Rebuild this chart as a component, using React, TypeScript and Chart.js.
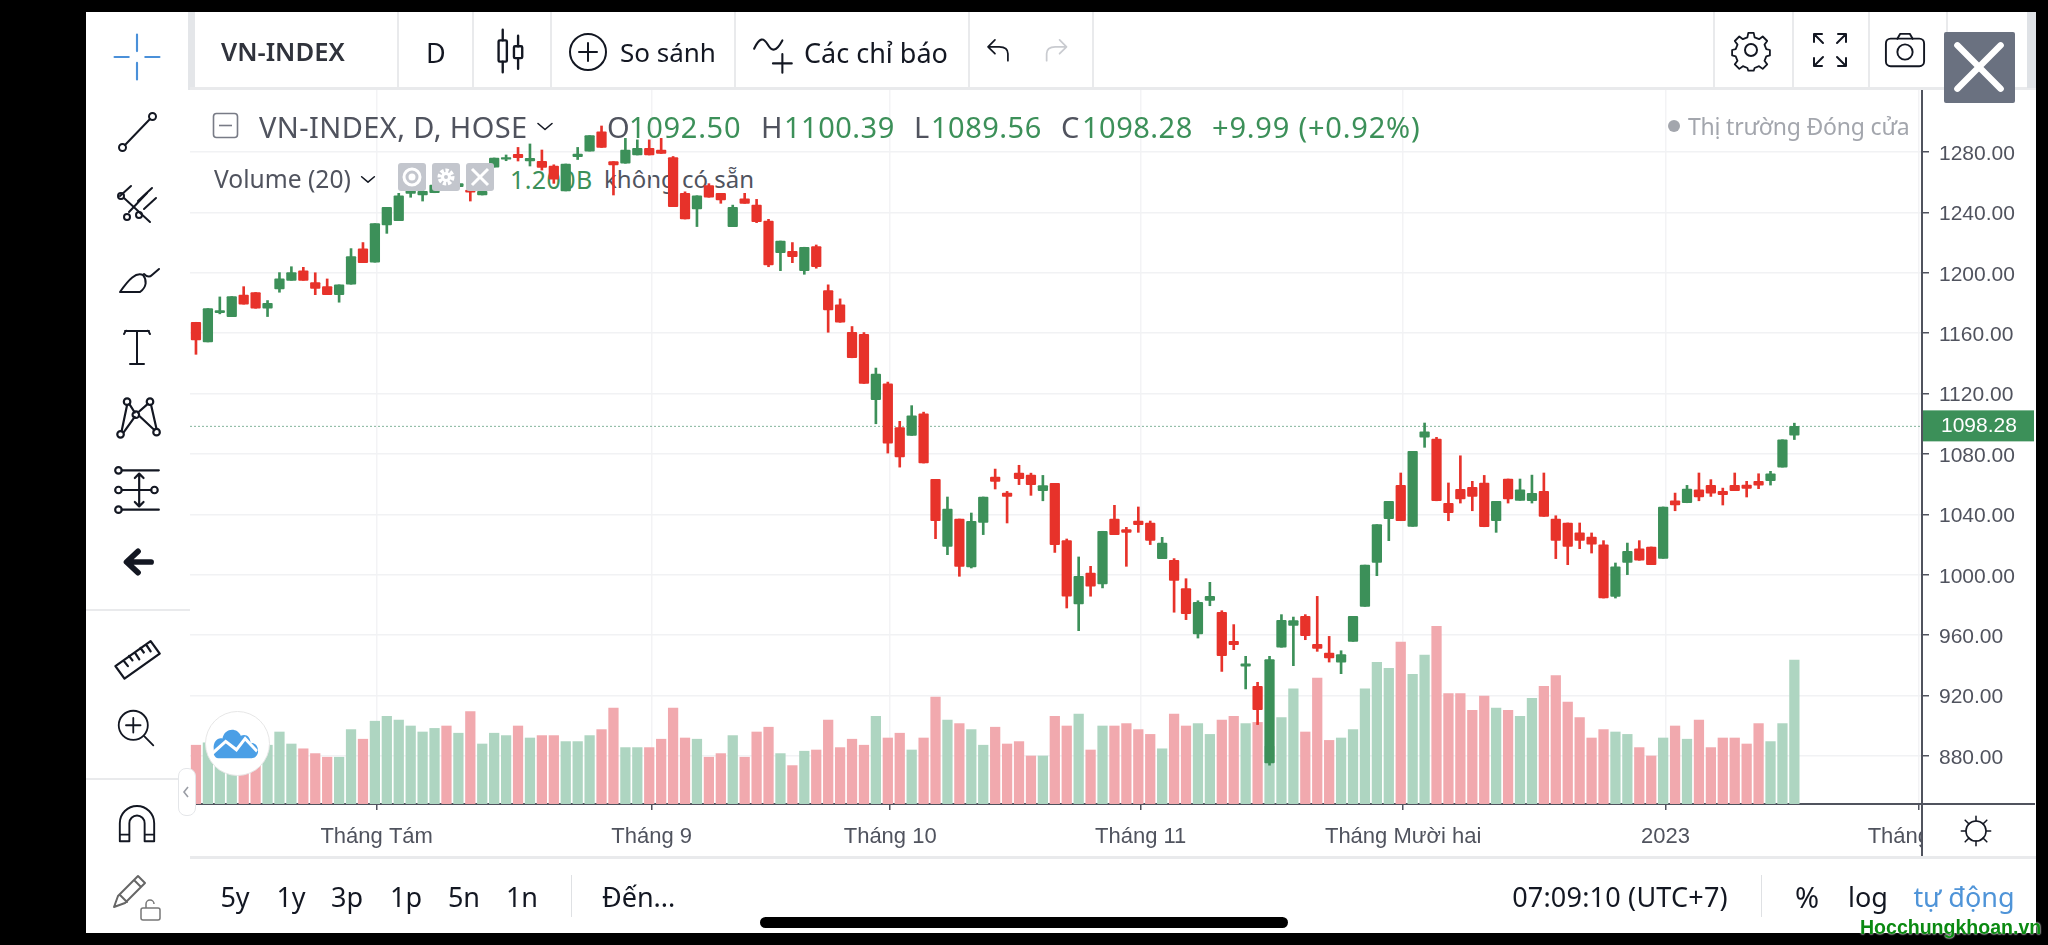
import React, { useEffect, useRef } from "react";
import { Chart, registerables } from "chart.js";

Chart.register(...registerables);

const opens = [1167.2,1154.2,1173.6,1171,1185.3,1186.9,1176.5,1189.3,1195,1201.2,1193.5,1190.8,1185.5,1192.4,1215.8,1207,1231.7,1234.5,1252.6,1251.5,1253,1259,1257,1254.8,1251.5,1270,1275.3,1278.4,1274,1273.8,1270.7,1254.2,1276.9,1280.6,1293.4,1273.6,1272.5,1278,1282.4,1281.3,1276.2,1252.6,1242.2,1257.7,1252.6,1230.6,1248.9,1244.9,1234.3,1213.3,1214.2,1201.4,1217.3,1188.2,1178.7,1160.6,1159.3,1115.9,1126.5,1097.4,1092.3,1106.6,1063.2,1018.8,1036.9,1005.2,1034.7,1064.7,1054.1,1067.4,1066,1055.7,1060.5,1022.6,980.7,1001.2,993.9,1036.9,1029.9,1035.6,1034.3,1010.7,1009.6,990.8,960.8,983,975.1,955.9,939.4,926.1,875.4,952,966.5,972.5,953.9,948.2,942.2,955.9,979.1,1008.2,1037.1,1059.2,1032.1,1091.2,1089.9,1047.3,1056.6,1057.9,1060.7,1035.8,1063.4,1049.3,1049,1055.2,1036.9,1034.3,1027.7,1025,1019.9,985.7,1008.2,1017.1,1018.4,1010.9,1049,1047.7,1056.3,1059.2,1055.2,1059.2,1059.4,1061.9,1062.3,1071.3,1092.5];
const highs = [1167.2,1176.3,1184,1184.2,1190.8,1186.9,1181.6,1200.1,1204,1203.6,1200,1195.9,1192,1216,1220,1232.5,1243.3,1252.6,1256,1256,1258,1262,1260,1256,1254,1276,1278,1283,1285.3,1281.3,1271.5,1272,1283,1290.8,1297.2,1273.6,1289,1288,1288,1289,1277,1253.6,1251,1259,1252.6,1244.8,1252.6,1248.6,1235.4,1221,1220,1216.9,1218.4,1192,1182.7,1164.4,1160.4,1136.9,1127.6,1101.6,1112,1107.7,1063.2,1051.5,1036.9,1040.9,1051.5,1070,1055.2,1072.5,1067.3,1065.8,1060.5,1023.7,1011.8,1005.6,1028.8,1046,1031.4,1044.9,1035.6,1024.8,1010.7,997.4,982.8,995,976.2,967,946,928.8,946,973.6,972,973.6,985.7,959.2,949.7,972.5,1006.4,1033.2,1048.6,1067.4,1081.7,1100.5,1091,1060.8,1078.8,1061.9,1065.8,1048.6,1063.4,1063.4,1066,1067.4,1039.1,1034.3,1034.3,1027.7,1022.6,1007.8,1021,1022.6,1018.4,1044.9,1054.1,1059.2,1067.4,1063,1057.4,1067.4,1061.9,1066.9,1068.5,1089.4,1100.39];
const lows = [1146,1154.2,1172.8,1171,1179.2,1176.5,1171,1187.1,1195,1195,1185.5,1185.5,1180.5,1192.4,1206.7,1207,1226.1,1234.5,1250,1247.5,1253,1256,1257,1247.5,1251.5,1270,1274.2,1274,1270.7,1268,1259.2,1254.2,1275,1280.6,1283,1251.5,1272.5,1278,1278,1279,1243.8,1235.6,1230.6,1250,1246,1230.6,1246,1233.2,1204,1201.4,1206.7,1199,1203,1160.6,1167.2,1143.7,1126.7,1100,1080.6,1071.3,1092.3,1074,1023.9,1013.3,999,1004.5,1026.6,1056.8,1034.3,1059.7,1052.6,1049,1014.8,978,963,985.8,991.3,1026.6,1005.6,1028.1,1020,1010.7,975.2,970.3,958.1,979.5,936,950.4,924.4,900.8,873.9,952,939.8,957,949.3,942.2,934.5,955.9,979.1,999.4,1022.6,1035.8,1032.1,1084.4,1049,1035.8,1047.5,1042.4,1031.8,1028.1,1047.5,1049.3,1047.5,1038.7,1010.7,1006.7,1017.3,1014.4,984.6,984.6,1000.1,1009.6,1006.7,1010.9,1042.4,1047.7,1049,1051.9,1046.2,1055.7,1051.5,1057,1059.4,1071.3,1089.56];
const closes = [1155.5,1176.3,1175,1184.2,1179.2,1176.5,1179.8,1195.9,1200.1,1195,1189.7,1185.5,1192,1210.7,1206.7,1232.5,1243.3,1251,1254.8,1254,1258,1257,1259,1253.3,1254,1276,1276.2,1276.2,1275.8,1269.8,1261.9,1272,1278.6,1290.8,1283,1271.4,1281.3,1282.4,1278,1279,1243.8,1235.6,1251,1250,1248.2,1243.3,1246,1233.9,1205.2,1221,1210.7,1216.9,1204,1175.4,1167.2,1143.7,1126.7,1132.9,1087.2,1078,1105.3,1074,1035.8,1043.5,1005.6,1035.4,1051.5,1061.9,1051.9,1063.6,1059.7,1059,1020,985.8,999,992.4,1028.8,1026.6,1028.1,1033.2,1022.8,1021,996.3,974.2,981.7,985.7,946.4,953.7,941.1,910.7,943.8,969.8,969.6,959.7,951.3,944.9,947.1,972.5,1006.4,1033.2,1048.6,1035.8,1081.7,1094.7,1049,1041.1,1050.2,1051.9,1031.8,1048.6,1050.2,1056.3,1053.9,1038.7,1022.8,1018.8,1022.8,1020.2,984.6,1005.2,1015.5,1009.6,1006.7,1044.9,1046.2,1056.8,1051.5,1054.1,1053,1055.7,1057.2,1059.4,1066.9,1089.4,1098.28];
const volumes = [0.49,0.51,0.44,0.41,0.39,0.44,0.49,0.6,0.5,0.46,0.42,0.39,0.39,0.62,0.54,0.69,0.73,0.7,0.65,0.6,0.63,0.65,0.59,0.77,0.5,0.59,0.57,0.65,0.55,0.57,0.57,0.52,0.52,0.57,0.62,0.8,0.47,0.47,0.47,0.54,0.8,0.55,0.54,0.39,0.42,0.57,0.39,0.6,0.64,0.42,0.32,0.44,0.45,0.7,0.47,0.54,0.49,0.73,0.55,0.59,0.45,0.55,0.89,0.7,0.67,0.62,0.49,0.64,0.5,0.52,0.4,0.4,0.73,0.65,0.75,0.45,0.65,0.65,0.67,0.62,0.58,0.46,0.75,0.65,0.67,0.58,0.7,0.73,0.67,0.68,0.48,0.72,0.96,0.6,1.05,0.53,0.55,0.62,0.96,1.18,1.13,1.35,1.08,1.24,1.48,0.92,0.92,0.78,0.9,0.8,0.78,0.73,0.88,0.98,1.07,0.85,0.72,0.55,0.62,0.6,0.58,0.47,0.4,0.55,0.65,0.54,0.7,0.47,0.55,0.55,0.5,0.67,0.52,0.67,1.2];
const priceTicks = [880,920,960,1000,1040,1080,1120,1160,1200,1240,1280];
const monthLabels = ["Tháng Tám","Tháng 9","Tháng 10","Tháng 11","Tháng Mười hai","2023","Tháng Hai"];
const monthSlots = [15.15,38.2,58.2,79.2,101.2,123.2,144.4];
const lastClose = closes[closes.length - 1];

const RED = "#e7322a", GREEN = "#3c9059", VRED = "#f1a9ae", VGREEN = "#aed5c1";
const SANS = "'Noto Sans', sans-serif";
const AX = "'Liberation Sans', sans-serif";

const Txt = ({ x, y, s, c = "#50535e", f = SANS, w = 400, ls = 0, ha = "left", children }: any) => (
  <div style={{ position: "absolute", left: x, top: y, fontFamily: f, fontSize: s, color: c, fontWeight: w, letterSpacing: ls, whiteSpace: "nowrap", lineHeight: 1, transform: `translate(${ha === "center" ? "-50%" : "0"},-50%)` }}>{children}</div>
);
const Box = ({ x, y, w, h, c, r = 0, extra = {} }: any) => (
  <div style={{ position: "absolute", left: x, top: y, width: w, height: h, background: c, borderRadius: r, ...extra }} />
);
const Ic = ({ cx, cy, size = 44, sw = 2, stroke = "#131722", children }: any) => (
  <svg width={size} height={size} viewBox="0 0 44 44" fill="none" stroke={stroke} strokeWidth={sw} strokeLinecap="round" strokeLinejoin="round" style={{ position: "absolute", left: cx - size / 2, top: cy - size / 2 }}>{children}</svg>
);

export default function App() {
  const ref = useRef<HTMLCanvasElement | null>(null);
  useEffect(() => {
    document.body.style.margin = "0";
    document.body.style.background = "#000";
    const dir = opens.map((o, i) => closes[i] >= o);
    const badge = {
      id: "badge",
      afterDraw(chart: any) {
        const { ctx, scales } = chart;
        const y = scales.y.getPixelForValue(lastClose);
        const x0 = scales.y.left + 1;
        ctx.save();
        ctx.fillStyle = GREEN;
        ctx.fillRect(x0, y - 16, 111, 31);
        ctx.fillStyle = "#fff";
        ctx.font = "21px 'Liberation Sans'";
        ctx.textBaseline = "middle";
        ctx.fillText(lastClose.toFixed(2), x0 + 18, y);
        ctx.restore();
      },
    };
    const chart = new Chart(ref.current as HTMLCanvasElement, {
      type: "bar",
      data: {
        datasets: [
          { label: "Body", order: 0, xAxisID: "x", yAxisID: "y", barThickness: 9.6, borderRadius: 1, borderSkipped: false,
            data: opens.map((o, i) => ({ x: i, y: [o, closes[i]] })), backgroundColor: dir.map((u) => (u ? GREEN : RED)) },
          { label: "Wick", order: 1, xAxisID: "x", yAxisID: "y", barThickness: 2,  borderSkipped: false,
            data: lows.map((l, i) => ({ x: i, y: [l, highs[i]] })), backgroundColor: dir.map((u) => (u ? GREEN : RED)) },
          { label: "Last", type: "line", order: 2, xAxisID: "x", yAxisID: "y", pointRadius: 0, borderWidth: 1, borderDash: [2, 2], borderColor: "rgba(80,150,115,0.7)",
            data: [{ x: -0.5, y: lastClose }, { x: 144.7, y: lastClose }] },
          { label: "Volume", order: 3, xAxisID: "x", yAxisID: "v", barThickness: 9.6,
            data: volumes.map((v, i) => ({ x: i, y: v })), backgroundColor: dir.map((u) => (u ? VGREEN : VRED)) },
        ] as any,
      },
      plugins: [badge],
      options: {
        responsive: false,
        animation: false,
        events: [],
        datasets: { bar: { grouped: false } } as any,
        layout: { padding: { left: 190, top: 90, right: 12, bottom: 89 } },
        plugins: { legend: { display: false }, tooltip: { enabled: false }, title: { display: false } },
        scales: {
          x: {
            type: "linear", offset: false, min: -0.5, max: 144.7,
            afterBuildTicks: (a: any) => { a.ticks = monthSlots.map((value) => ({ value })); },
            afterFit: (a: any) => { a.height = 52; },
            border: { color: "#50535e", width: 2 },
            grid: { color: "#f3f3f5", tickColor: "#50535e", tickLength: 6, offset: false, lineWidth: 1.5 },
            ticks: { autoSkip: false, maxRotation: 0, padding: 14, color: "#50535e", font: { family: "Liberation Sans", size: 22 },
              callback: (v: any) => monthLabels[monthSlots.indexOf(Number(v))] ?? "" },
          },
          y: {
            type: "linear", position: "right", min: 848.2, max: 1321.03,
            afterBuildTicks: (a: any) => { a.ticks = priceTicks.map((value) => ({ value })); },
            afterFit: (a: any) => { a.width = 114; },
            border: { color: "#50535e", width: 2 },
            grid: { color: "#f1f2f4", tickColor: "#50535e", tickLength: 7, lineWidth: 1.5 },
            ticks: { padding: 10, labelOffset: 2, color: "#50535e", font: { family: "Liberation Sans", size: 21 }, callback: (v: any) => Number(v).toFixed(2) },
          },
          v: { type: "linear", display: false, min: 0, max: 5.95 },
        },
      } as any,
    });
    return () => chart.destroy();
  }, []);

  const sep = (x: number) => <Box key={x} x={x} y={12} w={2} h={76} c="#e9eaec" />;
  return (
    <div style={{ position: "relative", width: 2048, height: 945, background: "#000", overflow: "hidden" }}>
      <Box x={86} y={12} w={1950} h={921} c="#fff" />
      {/* text that sits under the candles */}
      <Txt x={510} y={179} s={25} c="#3c9059" ls={0.4}>1.200B</Txt>
      <Txt x={604} y={179} s={24}>không có sẵn</Txt>
      <canvas ref={ref} width={2048} height={945} style={{ position: "absolute", left: 0, top: 0, width: 2048, height: 945 }} />

      {/* chart frame additions */}
      <Box x={1923} y={808} w={113} h={48} c="#fff" />
      <Box x={1921} y={804} w={2} h={52} c="#50535e" />
      <Box x={1922} y={803} w={113} h={2} c="#50535e" />
      <Box x={190} y={856} w={1846} h={3} c="#e9eaec" />

      {/* top bar */}
      <Box x={188} y={12} w={7} h={78} c="#e4e6e9" />
      <Box x={190} y={87} w={1846} h={3} c="#e9eaec" />
      {[397, 472, 550, 734, 968, 1092, 1713, 1792, 1868, 1946].map(sep)}
      <Box x={2027} y={12} w={9} h={76} c="#dfe2e6" />
      <Txt x={221} y={52} s={25.6} w={600} c="#30333c">VN-INDEX</Txt>
      <Txt x={426} y={52} s={27} c="#131722">D</Txt>
      <Ic cx={511} cy={51} size={52}><path d="M15 4v9M15 31v9M28 9v9M28 28v9" /><rect x="11.5" y="13" width="7" height="18" rx="1" /><rect x="24.5" y="18" width="7" height="10" rx="1" /></Ic>
      <Ic cx={588} cy={52} size={44}><circle cx="22" cy="22" r="18" /><path d="M22 13v18M13 22h18" /></Ic>
      <Txt x={620} y={52} s={26} c="#131722">So sánh</Txt>
      <Ic cx={774} cy={54} size={46}><path d="M3 17 C8 6 12 6 16 13 C20 20 24 20 30 9" /><path d="M30 22v18M21 31h18" /></Ic>
      <Txt x={804} y={52} s={27} c="#131722">Các chỉ báo</Txt>
      <Ic cx={1001} cy={52} size={38}><path d="M30 32 V24 C30 18 26 16 20 16 H8 M15 8l-8 8 8 8" /></Ic>
      <Ic cx={1057} cy={52} size={38} stroke="#c9cbd0"><path d="M10 32 V24 C10 18 14 16 20 16 H32 M25 8l8 8-8 8" /></Ic>
      <Ic cx={1751} cy={50} size={44}><circle cx="22" cy="22" r="6" /><path d="M19 3h6l1 5 5 2 4-3 5 5-3 4 2 5 4 1v6l-4 1-2 5 3 4-5 5-4-3-5 2-1 3h-6l-1-3-5-2-4 3-5-5 3-4-2-5-4-1v-6l4-1 2-5-3-4 5-5 4 3 5-2z" transform="translate(2.2 2.2) scale(.9)" /></Ic>
      <Ic cx={1830} cy={50} size={44}><path d="M6 6l9 9M6 6h8M6 6v8M38 6l-9 9M38 6h-8M38 6v8M6 38l9-9M6 38h8M6 38v-8M38 38l-9-9M38 38h-8M38 38v-8" /></Ic>
      <Ic cx={1905} cy={52} size={42}><rect x="2" y="8" width="40" height="29" rx="5" /><path d="M14 8l3-5h10l3 5" /><circle cx="22" cy="22" r="8" /></Ic>
      <Box x={1944} y={32} w={71} h={71} c="#6a7180" r={2} />
      <Ic cx={1979} cy={67} size={56} sw={5} stroke="#fff"><path d="M5 5l34 34M39 5L5 39" /></Ic>

      {/* legend */}
      <svg width="28" height="28" style={{ position: "absolute", left: 212, top: 112 }} fill="none" stroke="#787b86" strokeWidth="1.6"><rect x="1.5" y="1.5" width="24" height="24" rx="3" /><path d="M7 13.5h13" /></svg>
      <Txt x={259} y={126} s={29} ls={0.4}>VN-INDEX, D, HOSE</Txt>
      <Ic cx={545} cy={126} size={22} sw={3.2}><path d="M8 17l14 12 14-12" /></Ic>
      <Txt x={607} y={126} s={29} ls={0.5}>O</Txt>
      <Txt x={629} y={126} s={29} c={GREEN} ls={0.7}>1092.50</Txt>
      <Txt x={761} y={126} s={29}>H</Txt>
      <Txt x={784} y={126} s={29} c={GREEN} ls={0.5}>1100.39</Txt>
      <Txt x={914} y={126} s={29}>L</Txt>
      <Txt x={931} y={126} s={29} c={GREEN} ls={0.5}>1089.56</Txt>
      <Txt x={1061} y={126} s={29}>C</Txt>
      <Txt x={1082} y={126} s={29} c={GREEN} ls={0.5}>1098.28</Txt>
      <Txt x={1212} y={126} s={29} c={GREEN} ls={0.8}>+9.99 (+0.92%)</Txt>
      <Box x={1668} y={120} w={12} h={12} c="#a3a6ad" r={6} />
      <Txt x={1688} y={126} s={23} c="#a3a6ad" ls={-0.2}>Thị trường Đóng cửa</Txt>
      <Txt x={214} y={179} s={24.6}>Volume (20)</Txt>
      <Ic cx={368} cy={179} size={20} sw={3.4}><path d="M8 17l14 12 14-12" /></Ic>
      {[398, 432, 466].map((x, k) => (
        <div key={x} style={{ position: "absolute", left: x, top: 163, width: 28, height: 28, background: "#c3c6cd", borderRadius: 3 }}>
          <svg width="28" height="28" fill="none" stroke="#fff" strokeWidth="3">
            {k === 0 && <><circle cx="14" cy="14" r="8" /><circle cx="14" cy="14" r="2" fill="#fff" /></>}
            {k === 1 && <><circle cx="14" cy="14" r="6" strokeWidth="5" strokeDasharray="3 1.5" /><circle cx="14" cy="14" r="3.5" /></>}
            {k === 2 && <path d="M6 6l16 16M22 6L6 22" />}
          </svg>
        </div>
      ))}

      {/* left bar */}
      <Box x={86} y={609} w={104} h={2} c="#e9eaec" />
      <Box x={86} y={778} w={104} h={2} c="#e9eaec" />
      <Ic cx={137} cy={57} size={52} stroke="#4a90d9" sw={1.8}><path d="M22 3v14M22 27v14M3 22h12M29 22h12" /></Ic>
      <Ic cx={137} cy={132}><path d="M10 35L35 9" /><circle cx="7.5" cy="37.5" r="3.5" /><circle cx="37.5" cy="6.5" r="3.5" /></Ic>
      <Ic cx={137} cy={203}><path d="M9 17l26 24M16 5L5 15M37 7L23 20M41 17L29 28" /><circle cx="6" cy="15" r="3" /><circle cx="24" cy="34" r="3" /><circle cx="12" cy="36" r="3" /><path d="M14 31L32 12" /></Ic>
      <Ic cx={139} cy={278}><path d="M3 36h20c7-5 7-12 3-17 -7-3-14 4-23 17z" /><path d="M27 18c3 3 6 3 8 1l7-6" /></Ic>
      <Ic cx={137} cy={347}><path d="M12 6C10 5 10 8 9 9M32 6c2-1 2 2 3 3M10 6h24M22 6v32M15 39h14" /></Ic>
      <Ic cx={138} cy={418} size={48}><circle cx="12" cy="7" r="3" /><circle cx="33" cy="7" r="3" /><circle cx="20" cy="19" r="3" /><circle cx="6" cy="37" r="3" /><circle cx="39" cy="35" r="3" /><path d="M12 10L7 34M14 9l5 8M22 17l9-8M34 10l5 22M9 35l10-14M23 20l14 13" /></Ic>
      <Ic cx={137} cy={490} size={48}><path d="M8 4h34M8 40h34M8 22h27" /><circle cx="5" cy="4" r="3" /><circle cx="5" cy="22" r="3" /><circle cx="5" cy="40" r="3" /><circle cx="38" cy="22" r="3" /><path d="M24 7v30M20 11l4-4 4 4M20 33l4 4 4-4" /></Ic>
      <Ic cx={138} cy={562} size={36} sw={7}><path d="M38 22H12M22 9L8 22l14 13" /></Ic>
      <Ic cx={137} cy={657} size={50}><path d="M3 30L34 8l8 11-31 22zM10 25l4 5M15 21l3 4M20 18l4 6M25 14l3 4M30 11l4 6" /></Ic>
      <Ic cx={136} cy={728} size={40}><circle cx="19" cy="19" r="16" /><path d="M19 11v16M11 19h16M31 31l10 10" /></Ic>
      <Ic cx={137} cy={826} size={42}><path d="M4 38V19a18 18 0 0 1 36 0v19H30V19a8 8 0 0 0-16 0v19zM4 31h10M30 31h10" /></Ic>
      <Ic cx={133} cy={893} size={44}><path d="M3 36l4-11L27 5l7 7-20 20z M9 24l7 7M23 9l7 7" stroke="#666" /></Ic>
      <svg width="24" height="26" style={{ position: "absolute", left: 139, top: 897 }} fill="#fff" stroke="#777" strokeWidth="1.5"><rect x="2" y="11" width="19" height="12" rx="2" /><path d="M7 11V7a4 4 0 0 1 8 0" fill="none" /></svg>

      {/* logo + collapse handle */}
      <div style={{ position: "absolute", left: 178, top: 768, width: 18, height: 48, background: "#fff", border: "1.5px solid #e4e6e9", borderRadius: 8, boxSizing: "border-box" }}>
        <svg width="14" height="46"><path d="M9 18l-4 5 4 5" fill="none" stroke="#9a9da5" strokeWidth="1.6" /></svg>
      </div>
      <div style={{ position: "absolute", left: 205, top: 711, width: 65, height: 65, background: "#fff", border: "1.5px solid #e6e6e6", borderRadius: "50%", boxSizing: "border-box" }}>
        <svg width="62" height="62" style={{ position: "absolute", left: 0, top: 0 }}>
          <g transform="translate(-3 -14) scale(1.08 1.4)">
            <path d="M10 37c-1-6 4-9 8-8 2-8 14-8 17-2 5-2 9 1 9 5 4 0 7 2 7 6 0 3-3 5-6 5H14c-3 0-5-3-4-6z" fill="#4b9fe6" />
            <path d="M8 40l13-9 10 6 8-8 11 9" fill="none" stroke="#fff" strokeWidth="2.4" />
          </g>
        </svg>
      </div>

      {/* bottom bar */}
      {[["5y", 235], ["1y", 291], ["3p", 347], ["1p", 406], ["5n", 464], ["1n", 522]].map(([t, x]) => (
        <Txt key={t as string} x={x} y={896} s={27} c="#131722" ha="center">{t}</Txt>
      ))}
      <Box x={571} y={875} w={1} h={42} c="#dfe1e4" />
      <Txt x={602} y={896} s={27} c="#131722">Đến...</Txt>
      <Txt x={1620} y={896} s={27} c="#131722" ha="center" ls={0.2}>07:09:10 (UTC+7)</Txt>
      <Box x={1761} y={875} w={1} h={42} c="#dfe1e4" />
      <Txt x={1807} y={896} s={29} c="#131722" ha="center">%</Txt>
      <Txt x={1868} y={896} s={27} c="#131722" ha="center">log</Txt>
      <Txt x={1964} y={896} s={27} c="#4f94d8" ha="center">tự động</Txt>

      {/* sun */}
      <Ic cx={1976} cy={831} size={34}><circle cx="22" cy="22" r="13" /><path d="M22 3v6M22 35v6M3 22h6M35 22h6M8 8l5 5M36 8l-5 5M8 36l5-5M36 36l-5-5" /></Ic>

      {/* phone bar & watermark */}
      <Box x={760} y={917} w={528} h={11} c="#000" r={6} />
      <div style={{ position: "absolute", left: 1860, top: 916, fontFamily: AX, fontWeight: 700, fontSize: 21, color: "#0b8a12", textShadow: "0 0 2px #fff, 0 0 2px #fff", whiteSpace: "nowrap", lineHeight: 1, transform: "scaleX(0.93)", transformOrigin: "left top" }}>Hocchungkhoan.vn</div>
    </div>
  );
}
